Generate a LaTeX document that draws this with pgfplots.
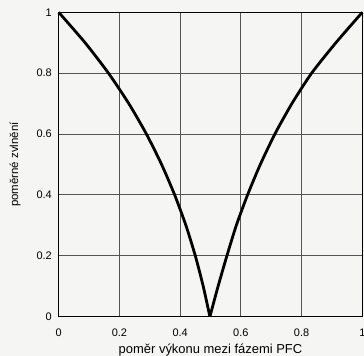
\documentclass[border=0pt]{standalone}
\usepackage{fontspec}
\setmainfont{Liberation Sans}
\usepackage{pgfplots}
\pgfplotsset{compat=1.18}
\definecolor{bg}{RGB}{245,245,243}
\definecolor{gridc}{RGB}{85,85,85}
\begin{document}
\begin{tikzpicture}
\path[use as bounding box, fill=bg] (-58.7bp,-39.3bp) rectangle (305.3bp,316.7bp);
\begin{axis}[
  scale only axis,
  width=303.6bp, height=304.4bp,
  xmin=0, xmax=1, ymin=0, ymax=1,
  xtick={0,0.2,0.4,0.6,0.8,1},
  ytick={0,0.2,0.4,0.6,0.8,1},
  major tick length=0pt,
  grid=major,
  major grid style={draw=gridc, line width=0.9bp},
  axis line style={draw=black, line width=1.3bp},
  /pgf/number format/assume math mode=true,
  ticklabel style={font=\fontsize{11}{13}\selectfont, inner sep=0pt},
  xticklabel style={anchor=base, yshift=-19.3bp},
  yticklabel style={anchor=east, xshift=-6.7bp},
  xlabel={poměr výkonu mezi fázemi PFC},
  ylabel={poměrné zvlnění},
  xlabel style={at={(axis description cs:0.5,-0.1193)}, anchor=base, font=\fontsize{13}{15}\selectfont, inner sep=0pt},
  ylabel style={at={(axis description cs:-0.134,0.5)}, anchor=base, font=\fontsize{11.5}{13}\selectfont, inner sep=0pt},
  clip=false,
]
\addplot[black, line width=2.8bp, smooth, tension=0.4] coordinates {
 (0,1) (0.087,0.9) (0.164,0.8) (0.231,0.7) (0.289,0.6) (0.339,0.5)
 (0.382,0.4) (0.419,0.3) (0.45,0.2) (0.476,0.1) (0.498,0)
};
\addplot[black, line width=2.8bp, smooth, tension=0.4] coordinates {
 (0.498,0) (0.525,0.1) (0.554,0.2) (0.585,0.3) (0.622,0.4) (0.664,0.5)
 (0.712,0.6) (0.768,0.7) (0.833,0.8) (0.913,0.9) (1,1)
};
\end{axis}
\end{tikzpicture}
\end{document}
